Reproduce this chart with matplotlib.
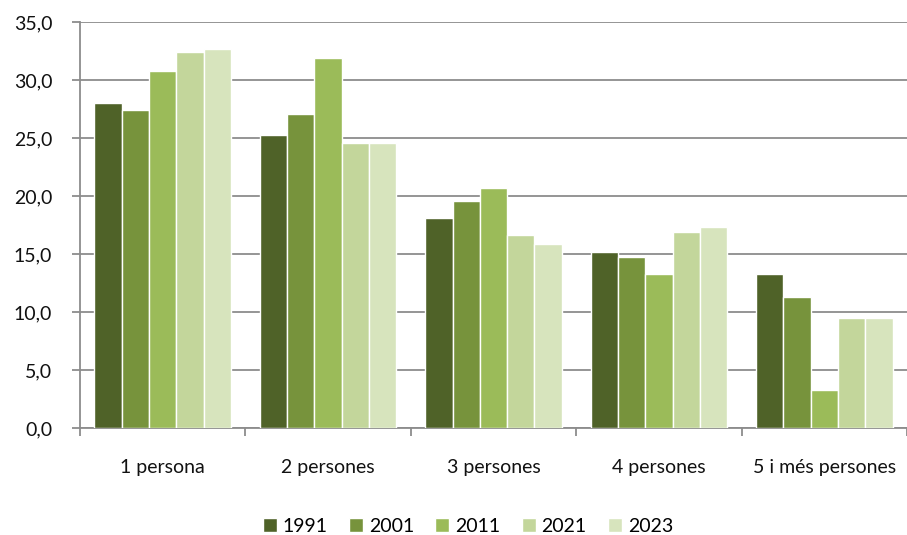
import matplotlib.pyplot as plt
import numpy as np

categories = ["1 persona", "2 persones", "3 persones", "4 persones", "5 i més persones"]
years = ["1991", "2001", "2011", "2021", "2023"]
v1991 = [28.0, 25.3, 18.1, 15.2, 13.3]
v2001 = [27.4, 27.1, 19.6, 14.7, 11.3]
v2011 = [30.8, 31.9, 20.7, 13.3, 3.3]
v2021 = [32.4, 24.6, 16.6, 16.9, 9.5]
v2023 = [32.7, 24.6, 15.9, 17.3, 9.5]
series = [v1991, v2001, v2011, v2021, v2023]
colors = ["#4F6228", "#77933C", "#9BBB59", "#C3D69B", "#D7E4BD"]

plt.rcParams["font.family"] = ["Lato", "DejaVu Sans"]
FS = 14

fig = plt.figure(figsize=(9.07, 5.35), dpi=100)
ax = fig.add_axes([80 / 907, 107 / 535, 1 - 80 / 907, (428 - 22) / 535])

x = np.arange(len(categories))
w = 0.165
for i, (vals, c, lab) in enumerate(zip(series, colors, years)):
    ax.bar(x + (i - 2) * w, vals, width=w, color=c, edgecolor="white",
           linewidth=1.0, label=lab, zorder=3)

ax.set_ylim(0, 35)
ax.set_yticks(np.arange(0, 36, 5))
ax.set_yticklabels([f"{v:.1f}".replace(".", ",") for v in np.arange(0, 36, 5)],
                   fontsize=FS, color="#111111")
ax.set_xlim(-0.5, 4.467)

ax.yaxis.grid(True, color="#8C8C8C", linewidth=1.3, zorder=0)
ax.set_axisbelow(True)

ax.set_xticks(np.arange(-0.5, 5, 1.0))
ax.set_xticklabels([])
ax.set_xticks(x, minor=True)
ax.set_xticklabels(categories, minor=True, fontsize=FS, color="#111111")
ax.tick_params(axis="x", which="major", length=6, width=1.3, color="#8C8C8C", direction="out")
ax.tick_params(axis="x", which="minor", length=0, pad=22)
ax.tick_params(axis="y", length=6, width=1.3, color="#8C8C8C", pad=14)

for s in ["top", "right"]:
    ax.spines[s].set_visible(False)
for s in ["left", "bottom"]:
    ax.spines[s].set_color("#8C8C8C")
    ax.spines[s].set_linewidth(1.3)

fig.legend(loc="center", bbox_to_anchor=(468 / 907, 1 - 526 / 535), ncol=5,
           frameon=False, fontsize=FS, handlelength=0.72, handleheight=0.72,
           handletextpad=0.3, columnspacing=1.1, borderaxespad=0, borderpad=0)

fig.savefig("out.png", dpi=100)
